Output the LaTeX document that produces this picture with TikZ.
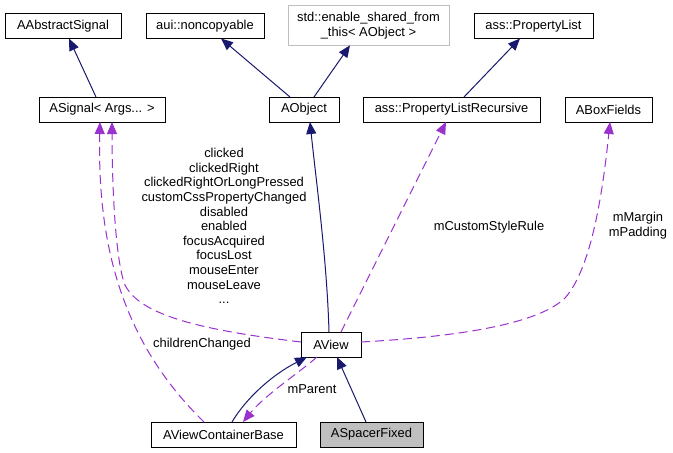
\documentclass[tikz,border=0pt]{standalone}
\usepackage{fontspec}
\setmainfont{Liberation Sans}
\usetikzlibrary{arrows.meta}
\definecolor{navyedge}{RGB}{25,25,112}
\definecolor{orchid}{RGB}{154,50,205}
\definecolor{greyline}{RGB}{191,191,191}
\begin{document}
\begin{tikzpicture}[x=1pt,y=-1pt,
  every node/.style={font=\fontsize{12.9}{14.65}\selectfont},
  box/.style={draw=black, line width=1pt, fill=white, minimum height=25pt, inner sep=0pt, outer sep=0pt, align=center},
  inh/.style={draw=navyedge, line width=1pt, -{Triangle[length=12pt,width=10pt]}},
  usage/.style={draw=orchid, line width=1pt, dash pattern=on 9pt off 5pt, -{Triangle[length=12pt,width=10pt]}},
  lbl/.style={align=center, inner sep=0pt}]
\useasboundingbox (0,0) rectangle (673,453);
\fill[white] (0,0) rectangle (673,453);
% nodes
\node[box, minimum width=116pt] (aas) at (63,26) {AAbstractSignal};
\node[box, minimum width=118pt] (auinc) at (205,26) {aui::noncopyable};
\node[box, draw=greyline, minimum width=161pt, minimum height=39.6pt] (stdesft) at (368.5,25.5) {std::enable\_shared\_from\\\_this< AObject >};
\node[box, minimum width=119pt] (apl) at (533.5,26) {ass::PropertyList};
\node[box, minimum width=126pt] (asig) at (102,109.5) {ASignal< Args... >};
\node[box, minimum width=70pt] (aobj) at (304,109.5) {AObject};
\node[box, minimum width=177pt] (aplr) at (451.5,109.5) {ass::PropertyListRecursive};
\node[box, minimum width=87pt] (abf) at (608.5,109.5) {ABoxFields};
\node[box, minimum width=60pt] (aview) at (331,344.5) {AView};
\node[box, minimum width=145pt] (avcb) at (223.5,434.5) {AViewContainerBase};
\node[box, fill=greyline, minimum width=103pt] (asf) at (371.5,434.5) {ASpacerFixed};
% inheritance edges
\draw[inh] ([xshift=-6pt]asig.north) -- ([xshift=6pt]aas.south);
\draw[inh] ([xshift=-14pt]aobj.north) -- ([xshift=16pt]auinc.south);
\draw[inh] ([xshift=10pt]aobj.north) -- ([xshift=-18.5pt]stdesft.south);
\draw[inh] ([xshift=12.5pt]aplr.north) -- ([xshift=-13.5pt]apl.south);
\draw[inh] ([xshift=-2pt]aview.north) .. controls (327,260) and (316,180) .. ([xshift=6pt]aobj.south);
\draw[inh] ([xshift=-5.5pt]asf.north) -- ([xshift=6pt]aview.south);
\draw[inh] ([xshift=8.5pt]avcb.north) .. controls (245,400) and (270,376) .. ([xshift=-24pt]aview.south);
% usage edges
\draw[usage] ([xshift=-14pt]aview.south) .. controls (300,372) and (265,395) .. ([xshift=19.5pt]avcb.north);
\draw[usage] ([xshift=-19.5pt]avcb.north) .. controls (125,345) and (97,250) .. ([xshift=-2pt]asig.south);
\draw[usage] ([yshift=2.5pt]aview.west) .. controls (200,330) and (140,315) .. (125,285)
   .. controls (115,260) and (112,180) .. ([xshift=10pt]asig.south);
\draw[usage] ([xshift=10pt]aview.north) -- ([xshift=-5.5pt]aplr.south);
\draw[usage] ([yshift=2.5pt]aview.east) .. controls (470,336) and (540,322) .. (565,298)
   .. controls (590,270) and (602,200) .. ([xshift=1.5pt]abf.south);
% labels
\node[lbl] (l1) at (224,226) {clicked\\clickedRight\\clickedRightOrLongPressed\\customCssPropertyChanged\\disabled\\enabled\\focusAcquired\\focusLost\\mouseEnter\\mouseLeave\\...};
\node[lbl] (l2) at (202,344) {childrenChanged};
\node[lbl] (l3) at (312,389) {mParent};
\node[lbl] (l4) at (489,227) {mCustomStyleRule};
\node[lbl] (l5) at (638,225.5) {mMargin\\mPadding};
\end{tikzpicture}
\end{document}
